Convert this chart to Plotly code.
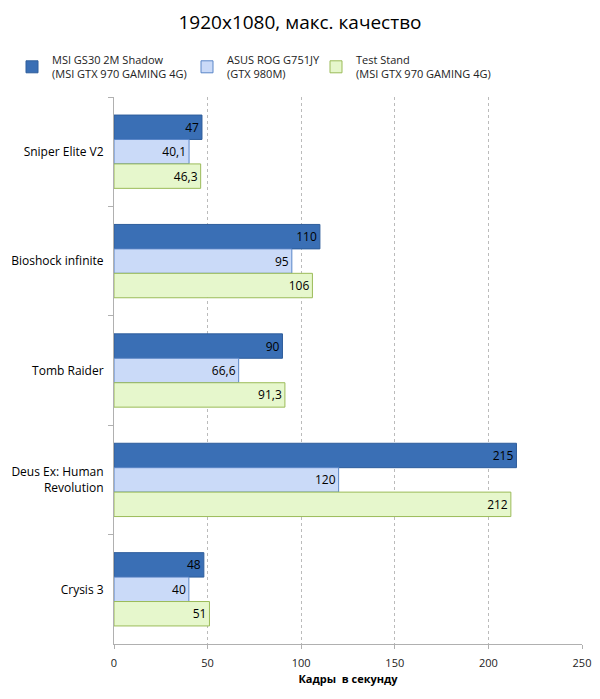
import plotly.graph_objects as go

games = ["Sniper Elite V2", "Bioshock infinite", "Tomb Raider",
         "Deus Ex: Human<br>Revolution", "Crysis 3"]
msi = [47, 110, 90, 215, 48]
asus = [40.1, 95, 66.6, 120, 40]
stand = [46.3, 106, 91.3, 212, 51]

names = ["MSI GS30 2M Shadow<br>(MSI GTX 970 GAMING 4G)",
         "ASUS ROG G751JY<br>(GTX 980M)",
         "Test Stand<br>(MSI GTX 970 GAMING 4G)"]
fills = ["#3a6fb5", "#cadaf8", "#e6f7cc"]
lines = ["#2f5e9c", "#5a86c8", "#9bbb59"]
legend_ids = ["legend", "legend2", "legend3"]
legend_x = [4, 179, 308]


def lbl(v):
    return str(v).replace(".", ",")


fig = go.Figure()
for vals, name, fc, lc, lg in zip([msi, asus, stand], names, fills, lines, legend_ids):
    fig.add_trace(go.Bar(
        y=games, x=vals, name=name, orientation="h", legend=lg,
        showlegend=True,
        marker=dict(color=fc, line=dict(color=lc, width=1)),
        text=[lbl(v) for v in vals], textposition="inside",
        insidetextanchor="end",
        textfont=dict(color="black", size=12),
    ))

legends = {}
for lg, lx in zip(legend_ids, legend_x):
    legends[lg] = dict(xref="container", yref="container",
                       x=lx / 600, y=1 - 38 / 699,
                       xanchor="left", yanchor="top",
                       font=dict(size=11, color="#222"),
                       bgcolor="rgba(0,0,0,0)")

fig.update_layout(
    width=600, height=699, showlegend=True,
    barmode="group", bargap=0.33, bargroupgap=0,
    plot_bgcolor="white", paper_bgcolor="white",
    font=dict(family="Open Sans", size=12, color="#222"),
    title=dict(text="1920x1080, макс. качество", x=292 / 600, xanchor="center",
               xref="container", y=1 - 14 / 699, yanchor="middle",
               font=dict(size=19, color="black")),
    margin=dict(l=106, r=26, t=89, b=63, autoexpand=False),
    uniformtext=dict(mode="show", minsize=12),
    **legends,
)
fig.update_xaxes(range=[0, 250], dtick=50, showgrid=True,
                 gridcolor="#bbbbbb", griddash="dot", gridwidth=1,
                 showline=True, linecolor="#b0b0b0", ticks="outside",
                 ticklen=4, tickcolor="#b0b0b0", zeroline=False,
                 automargin=False, ticklabelstandoff=5,
                 title=dict(text="<b>Кадры  в секунду</b>",
                            font=dict(size=11, color="black"), standoff=6),
                 tickfont=dict(size=11))
fig.update_yaxes(autorange="reversed", showline=True, linecolor="#b0b0b0",
                 ticks="outside", tickson="boundaries", ticklen=5,
                 tickcolor="#b0b0b0", automargin=False, ticklabelstandoff=7,
                 tickfont=dict(size=12, color="black"))

fig.write_html("out.html")
